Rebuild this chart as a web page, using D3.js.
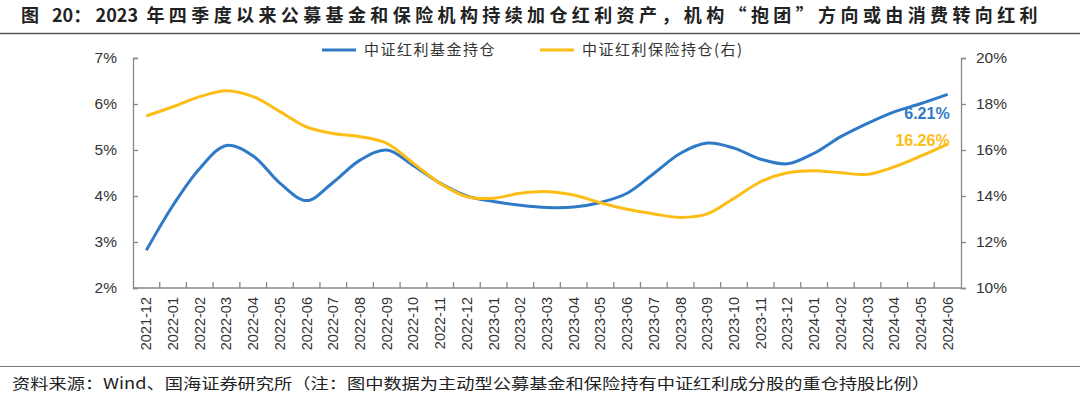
<!DOCTYPE html>
<html>
<head>
<meta charset="utf-8">
<script src="https://cdn.jsdelivr.net/npm/d3@7"></script>
<style>
  body { margin: 0; background: #fff; }
  svg { display: block; }
</style>
</head>
<body>
<svg id="chart" width="1080" height="402"></svg>
<script>
var months = ["2021-12","2022-01","2022-02","2022-03","2022-04","2022-05","2022-06","2022-07",
  "2022-08","2022-09","2022-10","2022-11","2022-12","2023-01","2023-02","2023-03","2023-04",
  "2023-05","2023-06","2023-07","2023-08","2023-09","2023-10","2023-11","2023-12","2024-01",
  "2024-02","2024-03","2024-04","2024-05","2024-06"];
// 中证红利基金持仓 (left, %)
var fundHold = [2.82,3.80,4.60,5.10,4.87,4.28,3.90,4.30,4.78,5.00,4.66,4.28,4.00,3.88,
  3.80,3.75,3.76,3.86,4.06,4.49,4.93,5.15,5.04,4.80,4.70,4.93,5.29,5.58,5.83,6.01,6.21];
// 中证红利保险持仓 (right, %)
var insureHold = [17.48,17.88,18.32,18.58,18.32,17.67,17.00,16.72,16.58,16.29,15.42,14.55,
  13.97,13.90,14.12,14.19,14.04,13.71,13.42,13.22,13.07,13.22,13.90,14.62,15.01,15.10,
  15.01,14.94,15.27,15.74,16.26];
var leftTicks = [2,3,4,5,6,7];
var rightTicks = [10,12,14,16,18,20];
var seriesNames = ["中证红利基金持仓","中证红利保险持仓(右)"];
var endLabels = ["6.21%","16.26%"];
var titleParts = ["图 ", "20", "：", "2023", " 年四季度以来公募基金和保险机构持续加仓红利资产，机构“抱团”方向或由消费转向红利"];

var blue = "#2f7ac6", yellow = "#fbbd16";
var svg = d3.select("#chart");

// title: digits stay tight, CJK text spread out to fill the width
var title = svg.append("text")
  .attr("x", 21).attr("y", 22)
  .attr("font-family", "Noto Sans CJK SC").attr("font-weight", "bold")
  .attr("font-size", "18px").attr("fill", "#222");
var tsp = title.selectAll("tspan").data(titleParts).enter().append("tspan")
  .text(function(d){ return d; });
var wide = tsp.filter(function(d, i){ return i % 2 == 0; });
var w0 = title.node().getComputedTextLength();
var nWide = titleParts.filter(function(d, i){ return i % 2 == 0; }).join("").length;
wide.attr("letter-spacing", ((1021 - w0) / nWide) + "px");

svg.append("line").attr("x1", 0).attr("x2", 1080).attr("y1", 33.5).attr("y2", 33.5)
  .attr("stroke", "#555").attr("stroke-width", 1.5);

var x = d3.scalePoint().domain(months).range([133, 961]).padding(0.5);
var yL = d3.scaleLinear().domain([2, 7]).range([288, 58]);
var yR = d3.scaleLinear().domain([10, 20]).range([288, 58]);

// axes
var axL = svg.append("g").attr("transform", "translate(133,0)")
  .call(d3.axisLeft(yL).tickValues(leftTicks).tickSize(-5).tickPadding(16)
    .tickFormat(function(d){ return d + "%"; }));
var axR = svg.append("g").attr("transform", "translate(961,0)")
  .call(d3.axisRight(yR).tickValues(rightTicks).tickSize(5).tickPadding(10)
    .tickFormat(function(d){ return d + "%"; }));
[axL, axR].forEach(function(g){
  g.select(".domain").attr("stroke", "#888").attr("stroke-width", 1.3);
  g.selectAll(".tick line").attr("stroke", "#888").attr("stroke-width", 1.3);
  g.selectAll(".tick text").attr("font-family", "Liberation Sans, Arial")
    .attr("font-size", "15.5px").attr("fill", "#333");
});

// x axis with ticks between categories
var bw = x.step();
svg.append("line").attr("x1", 133).attr("x2", 961).attr("y1", 288).attr("y2", 288)
  .attr("stroke", "#888").attr("stroke-width", 1.3);
svg.append("g").selectAll("line").data(months.slice(1)).enter().append("line")
  .attr("x1", function(d){ return x(d) - bw/2; })
  .attr("x2", function(d){ return x(d) - bw/2; })
  .attr("y1", 288).attr("y2", 282)
  .attr("stroke", "#888").attr("stroke-width", 1.3);
svg.append("g").selectAll("text").data(months).enter().append("text")
  .attr("transform", function(d){ return "translate(" + (x(d) + 5) + ",297) rotate(-90)"; })
  .attr("text-anchor", "end")
  .attr("font-family", "Liberation Sans, Arial").attr("font-size", "14.5px").attr("fill", "#333")
  .text(function(d){ return d; });

// lines
var lineL = d3.line().curve(d3.curveCatmullRom.alpha(0.5))
  .x(function(d, i){ return x(months[i]); }).y(function(d){ return yL(d); });
var lineR = d3.line().curve(d3.curveCatmullRom.alpha(0.5))
  .x(function(d, i){ return x(months[i]); }).y(function(d){ return yR(d); });
svg.append("path").attr("d", lineL(fundHold)).attr("fill", "none")
  .attr("stroke", blue).attr("stroke-width", 3);
svg.append("path").attr("d", lineR(insureHold)).attr("fill", "none")
  .attr("stroke", yellow).attr("stroke-width", 3);

// end labels
var last = months[months.length - 1];
svg.append("text").attr("x", x(last) + 2).attr("y", yL(fundHold[30]) + 25)
  .attr("text-anchor", "end").attr("font-family", "Liberation Sans, Arial")
  .attr("font-weight", "bold").attr("font-size", "16px").attr("fill", blue)
  .text(endLabels[0]);
svg.append("text").attr("x", x(last) + 2).attr("y", yR(insureHold[30]) + 2)
  .attr("text-anchor", "end").attr("font-family", "Liberation Sans, Arial")
  .attr("font-weight", "bold").attr("font-size", "16px").attr("fill", yellow)
  .text(endLabels[1]);

// legend
var legX = [322, 540];
[blue, yellow].forEach(function(c, i){
  svg.append("line").attr("x1", legX[i]).attr("x2", legX[i] + 34).attr("y1", 50).attr("y2", 50)
    .attr("stroke", c).attr("stroke-width", 3);
  svg.append("text").attr("x", legX[i] + 42).attr("y", 55)
    .attr("font-family", "Noto Sans CJK SC").attr("font-size", "15px").attr("fill", "#333")
    .attr("letter-spacing", "1.5px")
    .text(seriesNames[i]);
});

// source
svg.append("line").attr("x1", 0).attr("x2", 1080).attr("y1", 366.5).attr("y2", 366.5)
  .attr("stroke", "#777").attr("stroke-width", 1);
svg.append("text").attr("x", 12).attr("y", 389)
  .attr("textLength", 918).attr("lengthAdjust", "spacingAndGlyphs")
  .attr("font-family", "Noto Sans CJK SC").attr("font-size", "15px").attr("fill", "#222")
  .text("资料来源：Wind、国海证券研究所（注：图中数据为主动型公募基金和保险持有中证红利成分股的重仓持股比例）");
</script>
</body>
</html>
